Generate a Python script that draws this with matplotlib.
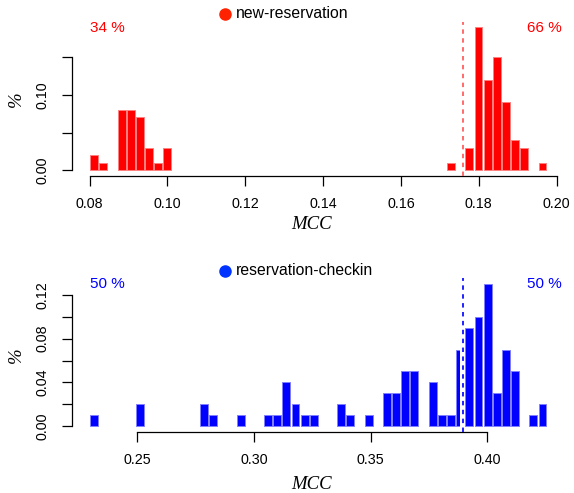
import matplotlib
matplotlib.use("Agg")
import matplotlib.pyplot as plt
import numpy as np
from matplotlib.lines import Line2D
from matplotlib.patches import Rectangle

plt.rcParams['font.family'] = ['Liberation Sans', 'DejaVu Sans']
plt.rcParams['lines.scale_dashes'] = False

# ---------------- data ----------------
# new-reservation : 50 histogram bins between nr_lo and nr_hi
nr_lo, nr_hi, nr_nbins = 0.0802, 0.1977, 50
nr_bin = [0, 1, 3, 4, 5, 6, 7, 8, 39, 41, 42, 43, 44, 45, 46, 47, 49]
nr_pct = [0.02, 0.01, 0.08, 0.08, 0.07, 0.03, 0.01, 0.03,
          0.01, 0.03, 0.19, 0.12, 0.15, 0.09, 0.04, 0.03, 0.01]
nr_thr = 0.176
nr_xticks = [0.08, 0.10, 0.12, 0.14, 0.16, 0.18, 0.20]
nr_yticks = [0.00, 0.05, 0.10, 0.15]
nr_ylabels = ["0.00", "", "0.10", ""]

# reservation-checkin
rc_lo, rc_hi, rc_nbins = 0.2300, 0.4258, 50
rc_bin = [0, 5, 12, 13, 16, 19, 20, 21, 22, 23, 24, 27, 28, 30, 32, 33, 34, 35,
          37, 38, 39, 40, 41, 42, 43, 44, 45, 46, 48, 49]
rc_pct = [0.01, 0.02, 0.02, 0.01, 0.01, 0.01, 0.01, 0.04, 0.02, 0.01, 0.01,
          0.02, 0.01, 0.01, 0.03, 0.03, 0.05, 0.05, 0.04, 0.01, 0.01, 0.07,
          0.09, 0.10, 0.13, 0.03, 0.07, 0.05, 0.01, 0.02]
rc_thr = 0.3895
rc_xticks = [0.25, 0.30, 0.35, 0.40]
rc_yticks = [0.00, 0.02, 0.04, 0.06, 0.08, 0.10, 0.12]
rc_ylabels = ["0.00", "", "0.04", "", "0.08", "", "0.12"]

series = [
    dict(name="new-reservation", lo=nr_lo, hi=nr_hi, n=nr_nbins, bins=nr_bin,
         pct=nr_pct, thr=nr_thr, xt=nr_xticks, yt=nr_yticks, yl=nr_ylabels,
         col="#ff0000", edge="#ff8080", dash="#ff6b6b", dot="#ff2200"),
    dict(name="reservation-checkin", lo=rc_lo, hi=rc_hi, n=rc_nbins, bins=rc_bin,
         pct=rc_pct, thr=rc_thr, xt=rc_xticks, yt=rc_yticks, yl=rc_ylabels,
         col="#0000ff", edge="#8080ff", dash="#2020ff", dot="#0033ff"),
]

W, H = 574, 493
fig = plt.figure(figsize=(W / 100, H / 100), dpi=100)

# axes boxes in pixels (left, top, right, bottom)
boxes = [(72, 21.8, 566, 175.7), (72, 278.4, 566, 431.7)]
legend_y = [14, 270.5]
pct_y = [28, 284]
xlab_y = [-0.265, -0.29]

for s, (l, t, r, b), ly, py, xy in zip(series, boxes, legend_y, pct_y, xlab_y):
    ax = fig.add_axes([l / W, 1 - b / H, (r - l) / W, (b - t) / H])
    bw = (s['hi'] - s['lo']) / s['n']
    lefts = np.array([s['lo'] + i * bw for i in s['bins']])
    heights = np.array(s['pct'])
    bars = ax.bar(lefts, heights, width=bw * 0.86, align='edge',
                  color=s['col'], edgecolor=s['edge'], linewidth=0.7, zorder=2)
    # bars crossing the threshold are cut at the threshold
    for p, x0 in zip(bars, lefts):
        if x0 < s['thr'] < x0 + bw * 0.86:
            clip = Rectangle((s['lo'] - bw, -1), s['thr'] - bw * 0.35 - (s['lo'] - bw), 2,
                             transform=ax.transData)
            p.set_clip_path(clip)

    span = s['hi'] - s['lo']
    ax.set_xlim(s['lo'] - 0.04 * span, s['hi'] + 0.04 * span)
    ymax = max(s['pct'])
    ax.set_ylim(-0.04 * ymax, ymax * 1.04)

    ax.axvline(s['thr'], color=s['dash'], lw=1.4, dashes=(3.2, 3.2), zorder=3)

    for sp in ['top', 'right']:
        ax.spines[sp].set_visible(False)
    ax.spines['left'].set_bounds(s['yt'][0], s['yt'][-1])
    ax.spines['bottom'].set_bounds(s['xt'][0], s['xt'][-1])
    for sp in ['left', 'bottom']:
        ax.spines[sp].set_linewidth(0.9)

    ax.set_xticks(s['xt'])
    ax.set_xticklabels(["%.2f" % v for v in s['xt']])
    ax.set_yticks(s['yt'])
    ax.set_yticklabels(s['yl'], rotation=90, va='center')
    ax.tick_params(axis='x', length=7, width=0.9, pad=8, labelsize=10.3)
    ax.tick_params(axis='y', length=7, width=0.9, pad=9, labelsize=10.3)

    ax.set_xlabel("MCC", family=['Liberation Serif', 'DejaVu Serif'],
                  style='italic', fontsize=13.5, labelpad=1)
    ax.xaxis.set_label_coords(0.485, xy)
    ax.set_ylabel("%", family=['Liberation Serif', 'DejaVu Serif'],
                  style='italic', fontsize=13.5, labelpad=8)

    # legend-like marker and text
    fig.add_artist(Line2D([225 / W], [1 - ly / H], marker='o', ms=8,
                          color=s['dot'], lw=0, transform=fig.transFigure))
    fig.text(236 / W, 1 - ly / H, s['name'], fontsize=11.3, va='center', ha='left')

    # percentage on each side of the threshold
    left_share = sum(h for x0, h in zip(lefts, heights) if x0 < s['thr'])
    right_share = sum(h for x0, h in zip(lefts, heights) if x0 >= s['thr'])
    fig.text(90 / W, 1 - py / H, "%d %%" % round(left_share * 100),
             color=s['col'], fontsize=11, va='center', ha='left')
    fig.text(562 / W, 1 - py / H, "%d %%" % round(right_share * 100),
             color=s['col'], fontsize=11, va='center', ha='right')

fig.savefig("out.png", dpi=100)
